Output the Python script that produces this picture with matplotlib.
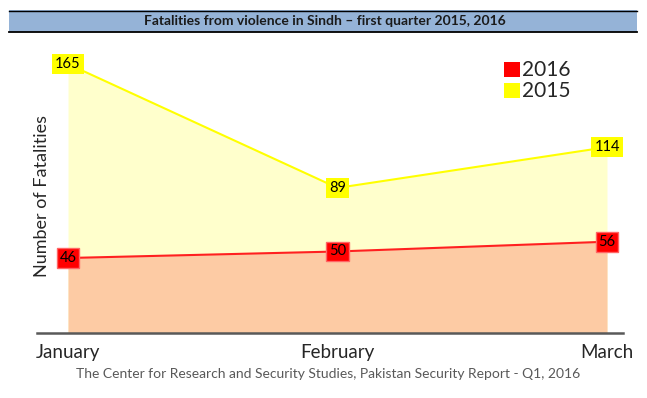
import matplotlib

matplotlib.use("Agg")
import matplotlib.pyplot as plt
from matplotlib.patches import Patch, Rectangle

months = ["January", "February", "March"]
fatalities_2015 = [165, 89, 114]
fatalities_2016 = [46, 50, 56]

title = "Fatalities from violence in Sindh \u2013 first quarter 2015, 2016"
source = "The Center for Research and Security Studies, Pakistan Security Report - Q1, 2016"

W, H = 647, 398
fig = plt.figure(figsize=(W / 100, H / 100), dpi=100)
plt.rcParams["font.family"] = ["Lato", "DejaVu Sans"]


def fx(px):
    return px / W


def fy(py):
    return 1 - py / H


# title band
fig.patches.append(
    Rectangle((fx(9), fy(32)), fx(637) - fx(9), fy(10) - fy(32),
              transform=fig.transFigure, facecolor="#95b3d7",
              edgecolor="none", zorder=0)
)
fig.add_artist(plt.Line2D([fx(9), fx(637)], [fy(10.5), fy(10.5)],
                          transform=fig.transFigure, color="black", lw=1))
fig.add_artist(plt.Line2D([fx(9), fx(637)], [fy(31.5), fy(31.5)],
                          transform=fig.transFigure, color="black", lw=1.3))
fig.text(fx(325), fy(21), title, ha="center", va="center",
         fontsize=10, fontweight="bold", color="#1a1a1a")

ax = fig.add_axes([fx(37), fy(333), fx(623) - fx(37), fy(45) - fy(333)])

x = list(range(len(months)))
ax.fill_between(x, 0, fatalities_2015, color="#ffffcc", lw=0, zorder=1)
ax.fill_between(x, 0, fatalities_2016, color="#fdcba4", lw=0, zorder=2)
ax.plot(x, fatalities_2015, color="#ffff00", lw=1.5, zorder=3)
ax.plot(x, fatalities_2016, color="#ff2020", lw=1.5, zorder=3)

for xi, v in zip(x, fatalities_2015):
    ax.text(xi, v, str(v), ha="center", va="center", fontsize=10.5,
            color="black", zorder=5,
            bbox=dict(boxstyle="square,pad=0.2", fc="#ffff00", ec="none"))
for xi, v in zip(x, fatalities_2016):
    ax.text(xi, v, str(v), ha="center", va="center", fontsize=10.5,
            color="black", zorder=5,
            bbox=dict(boxstyle="square,pad=0.2", fc="#ff0000", ec="#ff6666"))

# x 0 -> 68px, x 2 -> 607px
scale = (607 - 68) / 2
ax.set_xlim(-(68 - 37) / scale, 2 + (623 - 607) / scale)
ax.set_ylim(0, (333 - 45) / ((333 - 64) / 165))

for side in ["top", "right", "left"]:
    ax.spines[side].set_visible(False)
ax.spines["bottom"].set_color("#595959")
ax.spines["bottom"].set_linewidth(1.8)
ax.set_yticks([])
ax.set_xticks(x)
ax.set_xticklabels(months, fontsize=13.5, color="#262626")
ax.tick_params(axis="x", length=0, pad=8)
ax.patch.set_visible(False)

fig.text(fx(42), fy(196), "Number of Fatalities", rotation=90,
         ha="center", va="center", fontsize=13, color="#262626")

handles = [Patch(facecolor="#ff0000", edgecolor="none"),
           Patch(facecolor="#ffff00", edgecolor="none")]
fig.legend(handles, ["2016", "2015"], loc="upper left",
           bbox_to_anchor=(fx(494), fy(50)), frameon=False,
           prop=dict(size=15),
           handlelength=0.75, handleheight=0.75, handletextpad=0.1,
           labelspacing=0.05, borderpad=0, labelcolor="#262626")

fig.text(fx(328), fy(374), source, ha="center", va="center",
         fontsize=10, color="#595959")

fig.savefig("out.png", dpi=100)
